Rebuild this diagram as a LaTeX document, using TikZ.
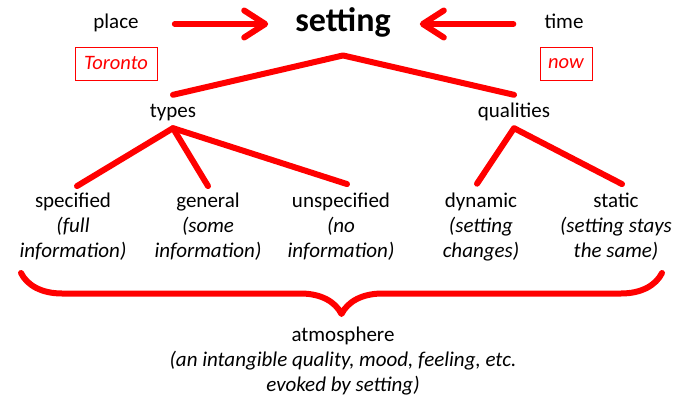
\documentclass[tikz,border=0pt]{standalone}
\usepackage{fontspec}
\setmainfont{Carlito}
\usetikzlibrary{arrows.meta, decorations.pathreplacing, positioning}

\begin{document}
\begin{tikzpicture}[x=1pt, y=-1pt,
  lbl/.style={font=\fontsize{21}{25}\selectfont, inner sep=0pt,
    text height=14.7pt, text depth=5.25pt},
  sub/.style={font=\fontsize{21}{25}\selectfont, inner sep=0pt, align=center},
  tag/.style={draw=red, line width=0.8pt, text=red, minimum height=33pt,
    inner sep=0pt, font=\fontsize{20.5}{24}\selectfont\itshape},
  branch/.style={red, line width=6pt, line cap=round, line join=round},
  pointer/.style={branch, -{Straight Barb[length=21pt, width=27pt, round]}}]

\useasboundingbox (0,0) rectangle (684,403);

\node[font=\bfseries\fontsize{34}{40}\selectfont, inner sep=0pt,
  text height=24pt, text depth=8.5pt] (setting) at (343,24) {setting};

\node[lbl] (place) at (116,24) {place};
\node[lbl] (time) at (564,24) {time};

\node[tag, minimum width=82pt] (toronto) at (116,63.5) {Toronto};
\node[tag, minimum width=52pt] (now) at (566,63.5) {now};

\draw[pointer] ([xshift=36pt]place.east) -- ([xshift=-27pt]setting.west);
\draw[pointer] ([xshift=-31pt]time.west) -- ([xshift=29pt]setting.east);

\node[lbl] (types) at (173,113) {types};
\node[lbl] (qualities) at (514,113) {qualities};

\draw[branch] ([yshift=8pt]types.north) -- ([yshift=-15pt]setting.south)
  -- ([yshift=8pt]qualities.north);

\node[sub] (specified) at (73,227) {specified\\\textit{(full}\\\textit{information)}};
\node[sub] (general) at (208,227) {general\\\textit{(some}\\\textit{information)}};
\node[sub] (unspecified) at (341,227) {unspecified\\\textit{(no}\\\textit{information)}};
\node[sub] (dynamic) at (481,227) {dynamic\\\textit{(setting}\\\textit{changes)}};
\node[sub] (static) at (616,227) {static\\\textit{(setting stays}\\\textit{the same)}};

\draw[branch] ([xshift=4pt, yshift=7pt]specified.north) -- ([yshift=-5pt]types.south)
  -- ([yshift=7pt]general.north);
\draw[branch] ([yshift=-5pt]types.south) -- ([xshift=6pt, yshift=9pt]unspecified.north);
\draw[branch] ([xshift=-4pt, yshift=9pt]dynamic.north) -- ([yshift=-5pt]qualities.south)
  -- ([xshift=6pt, yshift=9pt]static.north);

\coordinate (braceleft) at (21,273);
\coordinate (braceright) at (662,273);
\draw[branch, decorate, decoration={brace, mirror, amplitude=41pt}]
  (braceleft) -- (braceright);

\node[sub] (atmosphere) at (343,361) {atmosphere\\\textit{(an intangible quality, mood, feeling, etc.}\\\textit{evoked by setting)}};

\end{tikzpicture}
\end{document}
